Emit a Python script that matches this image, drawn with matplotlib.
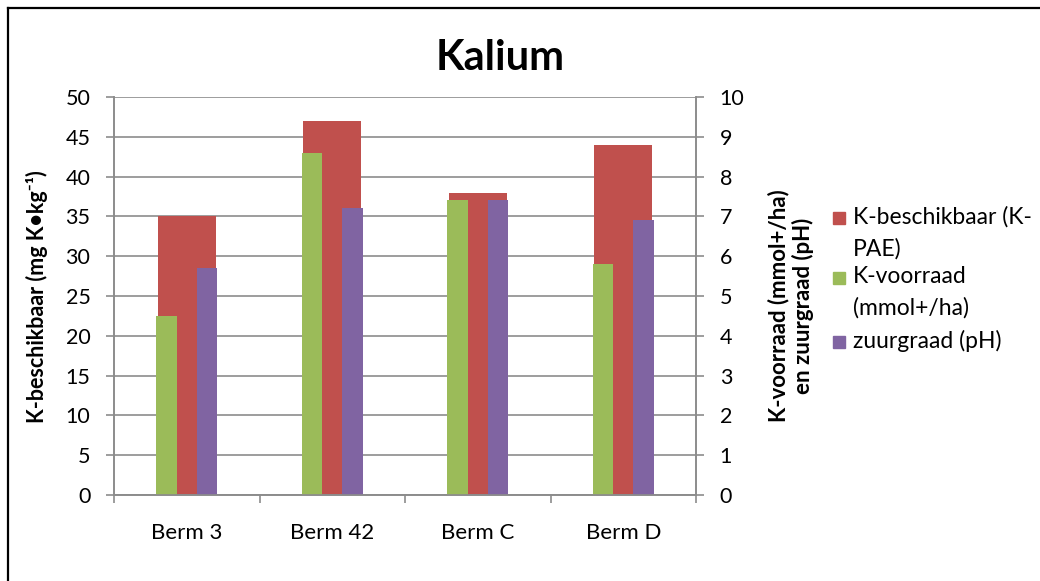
import numpy as np
import matplotlib
matplotlib.use("Agg")
import matplotlib.pyplot as plt
from matplotlib.lines import Line2D
from matplotlib.patches import Rectangle

plt.rcParams["font.family"] = ["Lato", "DejaVu Sans"]

CATEGORIES = ["Berm 3", "Berm 42", "Berm C", "Berm D"]
K_BESCHIKBAAR = [35, 47, 38, 44]       # left axis, mg K/kg
K_VOORRAAD = [4.5, 8.6, 7.4, 5.8]      # right axis
ZUURGRAAD = [5.7, 7.2, 7.4, 6.9]       # right axis
LEGEND_LABELS = ["K-beschikbaar (K-\nPAE)", "K-voorraad\n(mmol+/ha)", "zuurgraad (pH)"]
COLORS = ["#C0504D", "#9BBB59", "#8064A2"]
GRID = "#8C8C8C"

W, H = 1040, 581
fig = plt.figure(figsize=(W / 100, H / 100), dpi=100)

def fx(px):
    return px / W

def fy(py):
    return 1 - py / H

ax = fig.add_axes([fx(114), fy(495), fx(696) - fx(114), fy(97) - fy(495)])
ax2 = ax.twinx()

x = np.arange(len(CATEGORIES))
ax.bar(x, K_BESCHIKBAAR, width=0.4, color=COLORS[0], zorder=2)
ax2.bar(x - 0.139, K_VOORRAAD, width=0.14, color=COLORS[1])
ax2.bar(x + 0.139, ZUURGRAAD, width=0.14, color=COLORS[2])

ax.set_xlim(-0.5, len(CATEGORIES) - 0.5)
ax.set_ylim(0, 50)
ax2.set_ylim(0, 10)
ax.set_yticks(np.arange(0, 51, 5))
ax2.set_yticks(np.arange(0, 11, 1))
ax.set_axisbelow(True)
ax.grid(axis="y", color=GRID, linewidth=1.2)

ax.set_xticks(x)
ax.set_xticklabels(CATEGORIES)
ax.set_xticks(np.arange(-0.5, len(CATEGORIES)), minor=True)
ax.tick_params(axis="x", which="major", length=0, pad=20, labelsize=16)
ax.tick_params(axis="x", which="minor", length=6, width=1.2, color=GRID)
ax.tick_params(axis="y", length=6, width=1.2, color=GRID, pad=11, labelsize=15.5)
ax2.tick_params(axis="y", length=6, width=1.2, color=GRID, pad=11, labelsize=15.5)

for a in (ax, ax2):
    a.spines["top"].set_visible(False)
    for s in ("left", "right", "bottom"):
        a.spines[s].set_color(GRID)
        a.spines[s].set_linewidth(1.2)

fig.text(fx(500), fy(58), "Kalium", fontsize=30, fontweight="bold", ha="center", va="center")
fig.text(fx(37), fy(297), "K-beschikbaar (mg K•kg⁻¹)", fontsize=15.5, fontweight="bold",
         rotation=90, ha="center", va="center")
fig.text(fx(791), fy(306), "K-voorraad (mmol+/ha)\nen zuurgraad (pH)", fontsize=16,
         fontweight="bold", rotation=90, ha="center", va="center", linespacing=1.15)

# legend drawn by hand so the swatch sits on the first text line
legend_rows = [218, 278, 342]
for label, color, yc in zip(LEGEND_LABELS, COLORS, legend_rows):
    fig.patches.append(Rectangle((fx(833), fy(yc + 6)), fx(12), 12 / H, color=color,
                                 transform=fig.transFigure, figure=fig))
    fig.text(fx(853), fy(yc - 12), label, fontsize=16.5, ha="left", va="top",
             linespacing=1.6)

# outer chart frame (only top and left visible)
fig.add_artist(Line2D([fx(8), fx(8)], [0, fy(8)], color="black", linewidth=1.6))
fig.add_artist(Line2D([fx(8), 1], [fy(8), fy(8)], color="black", linewidth=1.6))

fig.savefig("out.png", dpi=100)
